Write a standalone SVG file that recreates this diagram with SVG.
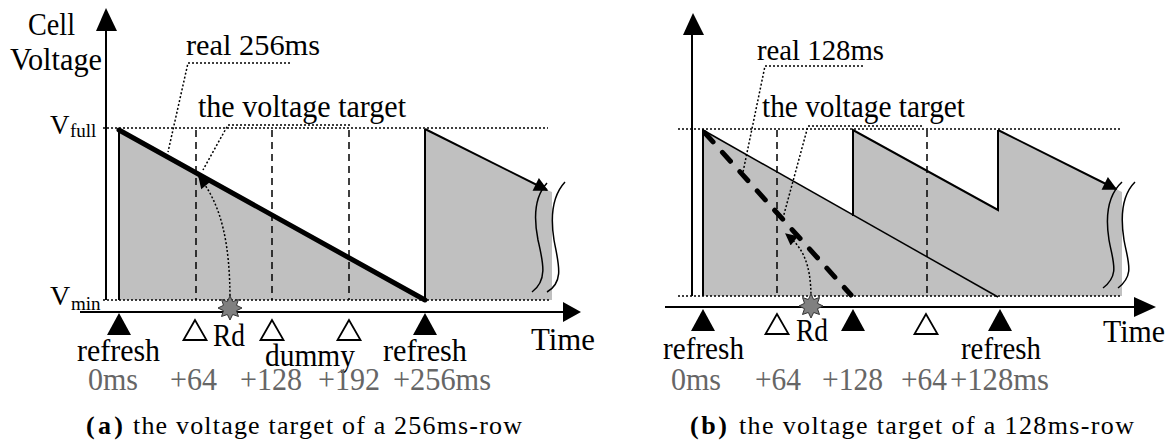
<svg xmlns="http://www.w3.org/2000/svg" xmlns:xlink="http://www.w3.org/1999/xlink" width="1169" height="445" viewBox="0 0 1169 445">
<style>
text{font-family:"Liberation Serif",Tinos,"Times New Roman",serif;fill:#000}
.t{font-size:32px}
.n{font-size:32px;fill:#666}
.cap{font-size:26px}
.ax{stroke:#000;stroke-width:2;fill:none}
.dot{stroke:#000;stroke-width:1.5;stroke-dasharray:2 2;fill:none}
.dash{stroke:#000;stroke-width:1.5;stroke-dasharray:7 5;fill:none}
.ln{stroke:#000;stroke-width:2;fill:none}
.gray{fill:#c0c0c0;stroke:none}
.brk{stroke:#000;stroke-width:1.5;fill:none}
.fill{fill:#000}
.open{fill:#fff;stroke:#000;stroke-width:1.8}
.star{fill:#808080;stroke:#333;stroke-width:1}
</style>
<defs>
<marker id="ah" viewBox="0 0 10 10" refX="9" refY="5" markerWidth="15" markerHeight="14" markerUnits="userSpaceOnUse" orient="auto"><path d="M0,0 L10,5 L0,10 z" fill="#000"/></marker>
<marker id="ah2" viewBox="0 0 10 10" refX="9" refY="5" markerWidth="13" markerHeight="12" markerUnits="userSpaceOnUse" orient="auto"><path d="M0,0 L10,5 L0,10 z" fill="#000"/></marker>
<polygon id="star" points="0,-12 2.68,-6.47 8.49,-8.49 6.47,-2.68 12,0 6.47,2.68 8.49,8.49 2.68,6.47 0,12 -2.68,6.47 -8.49,8.49 -6.47,2.68 -12,0 -6.47,-2.68 -8.49,-8.49 -2.68,-6.47"/>
<polygon id="tri" points="0,0 -12,22 12,22"/>
<polygon id="otri" points="0,0 -11.5,20 11.5,20"/>
</defs>

<g id="panel-a">
  <g id="a-fills">
    <polygon class="gray" points="119,130 425,300 119,300"/>
    <polygon class="gray" points="425,129 547,190 552,192 552,300 425,300"/>
  </g>
  <g id="a-guides">
    <path class="dot" d="M103,128 H548"/>
    <path class="dot" d="M103,300 H550"/>
    <path class="dash" d="M196,130 V300 M272,130 V300 M349,130 V300"/>
  </g>
  <g id="a-axes">
    <path class="ax" d="M106,30 V300"/>
    <path class="ax" d="M119,128 V300"/>
    <polygon class="fill" points="106,8 96,31 117,31"/>
    <path class="ax" d="M80,312 H565"/>
    <polygon class="fill" points="581,312 563,302 563,322"/>
  </g>
  <g id="a-connectors">
    <path d="M119,130 L425,300" stroke="#000" stroke-width="5" stroke-linecap="round" fill="none"/>
    <path class="ln" d="M425,300 V129"/>
    <path class="ln" d="M425,129 L547,190" marker-end="url(#ah)"/>
    <path class="brk" d="M547,183 C536,195 533,215 538,240 C543,262 548,280 532,292"/>
    <path class="brk" d="M565,182 C553,195 550,215 554,240 C558,262 565,282 547,292"/>
    <path class="dot" d="M290,63 H188 L168,152"/>
    <path class="dot" d="M350,125 H228 L203,170"/>
    <path class="dot" d="M230,300 C230,245 222,205 199,177" marker-end="url(#ah2)"/>
  </g>
  <g id="a-markers">
    <use xlink:href="#tri" href="#tri" class="fill" x="119" y="313"/>
    <use xlink:href="#tri" href="#tri" class="fill" x="425" y="313"/>
    <use xlink:href="#otri" href="#otri" class="open" x="195" y="320"/>
    <use xlink:href="#otri" href="#otri" class="open" x="272" y="320"/>
    <use xlink:href="#otri" href="#otri" class="open" x="349" y="320"/>
    <use xlink:href="#star" href="#star" class="star" x="230" y="308"/>
  </g>
  <g id="a-labels">
    <text x="28" y="35" style="font-size:31px" textLength="47" lengthAdjust="spacingAndGlyphs">Cell</text>
    <text x="10" y="70" style="font-size:31px" textLength="92" lengthAdjust="spacingAndGlyphs">Voltage</text>
    <text x="50" y="134" style="font-size:27px">V<tspan x="70" y="137" style="font-size:19px">full</tspan></text>
    <text x="50" y="305" style="font-size:28px">V<tspan x="71" y="310" style="font-size:19px">min</tspan></text>
    <text x="186" y="55" style="font-size:30px" textLength="134" lengthAdjust="spacingAndGlyphs">real 256ms</text>
    <text x="198" y="117" style="font-size:31px" textLength="208" lengthAdjust="spacingAndGlyphs">the voltage target</text>
    <text x="77" y="361" class="t" textLength="83" lengthAdjust="spacingAndGlyphs">refresh</text>
    <text x="213" y="346" class="t" textLength="32" lengthAdjust="spacingAndGlyphs">Rd</text>
    <text x="265" y="366" class="t" textLength="90" lengthAdjust="spacingAndGlyphs">dummy</text>
    <text x="383" y="361" class="t" textLength="84" lengthAdjust="spacingAndGlyphs">refresh</text>
    <text x="531" y="350" class="t" textLength="64" lengthAdjust="spacingAndGlyphs">Time</text>
    <text x="88" y="390" class="n" textLength="50" lengthAdjust="spacingAndGlyphs">0ms</text>
    <text x="170" y="390" class="n" textLength="47" lengthAdjust="spacingAndGlyphs">+64</text>
    <text x="240" y="390" class="n" textLength="62" lengthAdjust="spacingAndGlyphs">+128</text>
    <text x="318" y="390" class="n" textLength="62" lengthAdjust="spacingAndGlyphs">+192</text>
    <text x="393" y="390" class="n" textLength="98" lengthAdjust="spacingAndGlyphs">+256ms</text>
  </g>
  <g id="a-caption">
    <text x="86" y="434" class="cap" font-weight="bold" textLength="37">(a)</text>
    <text x="133" y="434" class="cap" textLength="389">the voltage target of a 256ms-row</text>
  </g>
</g>

<g id="panel-b">
  <g id="b-fills">
    <polygon class="gray" points="703,130 853,215 853,130 998,210 998,130 1116,189 1122,192 1122,296 703,296"/>
  </g>
  <g id="b-guides">
    <path class="dot" d="M678,129 H1120"/>
    <path class="dot" d="M678,296 H1122"/>
    <path class="dash" d="M777,130 V296 M927,130 V296"/>
  </g>
  <g id="b-axes">
    <path class="ax" d="M692,33 V296"/>
    <path class="ax" d="M703,129 V296"/>
    <polygon class="fill" points="693,13 683,35 704,35"/>
    <path class="ax" d="M665,307 H1136"/>
    <polygon class="fill" points="1156,307 1134,297 1134,317"/>
  </g>
  <g id="b-connectors">
    <path d="M703,130 L998,297" stroke="#000" stroke-width="1.5" fill="none"/>
    <path class="ln" d="M853,216 V130 L998,210 V130"/>
    <path class="ln" d="M998,130 L1116,189" marker-end="url(#ah)"/>
    <path d="M705,133 L851,295" stroke="#000" stroke-width="5" stroke-dasharray="12 14" stroke-linecap="round" fill="none"/>
    <path class="brk" d="M1122,182 C1108,195 1105,215 1109,240 C1113,262 1120,275 1103,288"/>
    <path class="brk" d="M1135,182 C1122,195 1120,215 1124,240 C1128,262 1135,275 1118,288"/>
    <path class="dot" d="M863,66 H765 L743,172"/>
    <path class="dot" d="M922,126 H808 L783,218"/>
    <path class="dot" d="M811,298 C811,262 802,247 786,234" marker-end="url(#ah2)"/>
  </g>
  <g id="b-markers">
    <use xlink:href="#tri" href="#tri" class="fill" x="703" y="309"/>
    <use xlink:href="#tri" href="#tri" class="fill" x="853" y="309"/>
    <use xlink:href="#tri" href="#tri" class="fill" x="1000" y="309"/>
    <use xlink:href="#otri" href="#otri" class="open" x="777" y="314"/>
    <use xlink:href="#otri" href="#otri" class="open" x="926" y="314"/>
    <use xlink:href="#star" href="#star" class="star" x="811" y="306"/>
  </g>
  <g id="b-labels">
    <text x="757" y="60" style="font-size:30px" textLength="127" lengthAdjust="spacingAndGlyphs">real 128ms</text>
    <text x="762" y="117" style="font-size:31px" textLength="203" lengthAdjust="spacingAndGlyphs">the voltage target</text>
    <text x="663" y="359" class="t" textLength="81" lengthAdjust="spacingAndGlyphs">refresh</text>
    <text x="796" y="341" class="t" textLength="32" lengthAdjust="spacingAndGlyphs">Rd</text>
    <text x="961" y="359" class="t" textLength="80" lengthAdjust="spacingAndGlyphs">refresh</text>
    <text x="1103" y="342" class="t" textLength="62" lengthAdjust="spacingAndGlyphs">Time</text>
    <text x="671" y="390" class="n" textLength="50" lengthAdjust="spacingAndGlyphs">0ms</text>
    <text x="755" y="390" class="n" textLength="46" lengthAdjust="spacingAndGlyphs">+64</text>
    <text x="822" y="390" class="n" textLength="61" lengthAdjust="spacingAndGlyphs">+128</text>
    <text x="901" y="390" class="n" textLength="46" lengthAdjust="spacingAndGlyphs">+64</text>
    <text x="950" y="390" class="n" textLength="99" lengthAdjust="spacingAndGlyphs">+128ms</text>
  </g>
  <g id="b-caption">
    <text x="690" y="434" class="cap" font-weight="bold" textLength="37">(b)</text>
    <text x="739" y="434" class="cap" textLength="395">the voltage target of a 128ms-row</text>
  </g>
</g>
</svg>
